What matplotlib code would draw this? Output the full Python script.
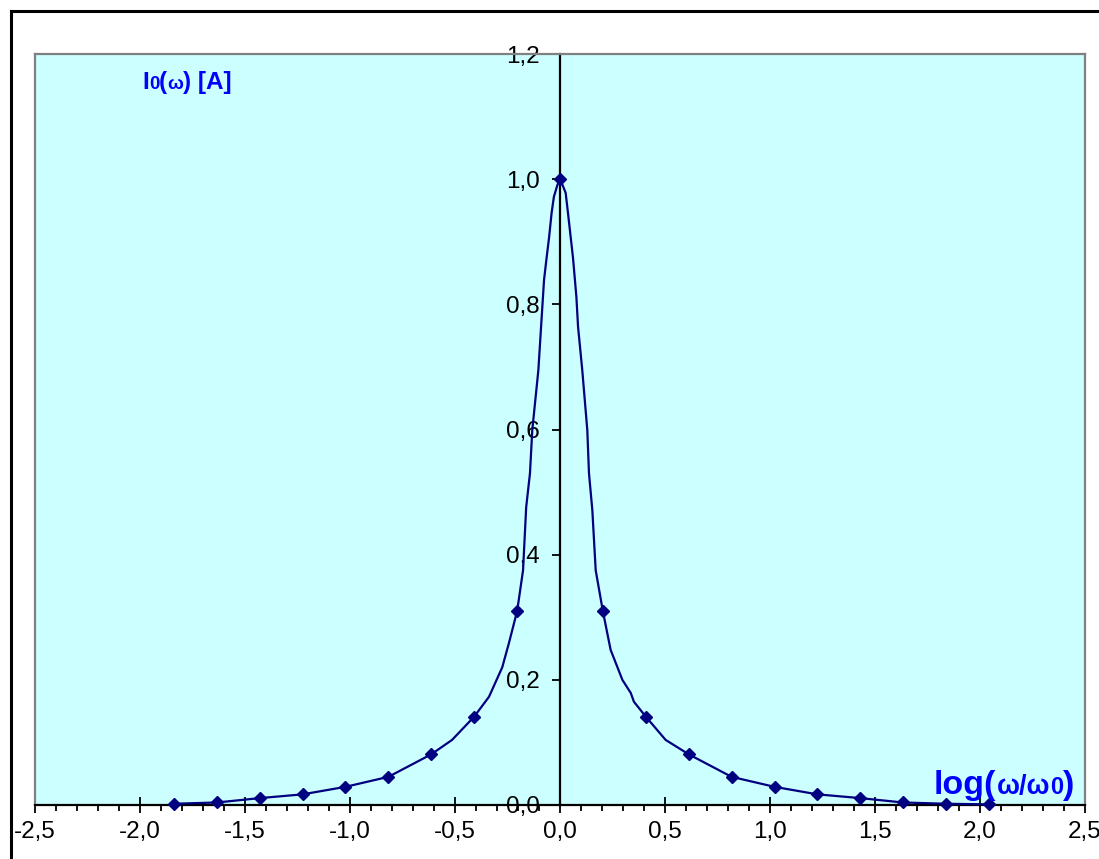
import matplotlib
matplotlib.use("Agg")
import matplotlib.pyplot as plt
from matplotlib.lines import Line2D
from matplotlib.ticker import MultipleLocator, FixedLocator

# ---- data ----
x_line = [-1.838, -1.634, -1.430, -1.226, -1.022, -0.817, -0.613, -0.514, -0.409,
          -0.338, -0.275, -0.243, -0.204, -0.176, -0.161, -0.143, -0.132, -0.103,
          -0.089, -0.076, -0.065, -0.052, -0.040, -0.029, -0.013, 0.000,
          0.013, 0.027, 0.038, 0.062, 0.078, 0.086, 0.106, 0.130, 0.138, 0.154,
          0.170, 0.204, 0.241, 0.297, 0.337, 0.352, 0.409, 0.503, 0.613, 0.817,
          1.022, 1.226, 1.430, 1.634, 1.838, 2.043]
y_line = [0.002, 0.004, 0.011, 0.017, 0.029, 0.045, 0.081, 0.104, 0.141,
          0.173, 0.220, 0.259, 0.310, 0.375, 0.476, 0.530, 0.599, 0.695,
          0.770, 0.839, 0.871, 0.907, 0.946, 0.972, 0.990, 1.000,
          0.990, 0.978, 0.946, 0.874, 0.812, 0.764, 0.695, 0.599, 0.530, 0.471,
          0.375, 0.310, 0.248, 0.200, 0.179, 0.165, 0.141, 0.104, 0.081, 0.045,
          0.029, 0.017, 0.011, 0.004, 0.002, 0.001]

x_mark = [-1.838, -1.634, -1.430, -1.226, -1.022, -0.817, -0.613, -0.409, -0.204, 0.0,
          0.204, 0.409, 0.613, 0.817, 1.022, 1.226, 1.430, 1.634, 1.838, 2.043]
y_mark = [0.002, 0.004, 0.011, 0.017, 0.029, 0.045, 0.081, 0.141, 0.310, 1.000,
          0.310, 0.141, 0.081, 0.045, 0.029, 0.017, 0.011, 0.004, 0.002, 0.001]

x_ticks = [-2.5, -2.0, -1.5, -1.0, -0.5, 0.0, 0.5, 1.0, 1.5, 2.0, 2.5]
x_ticklabels = ["-2,5", "-2,0", "-1,5", "-1,0", "-0,5", "0,0", "0,5", "1,0", "1,5", "2,0", "2,5"]
y_ticks = [0.0, 0.2, 0.4, 0.6, 0.8, 1.0, 1.2]
y_ticklabels = ["0,0", "0,2", "0,4", "0,6", "0,8", "1,0", "1,2"]

plt.rcParams['font.family'] = ['Liberation Sans', 'DejaVu Sans']

W, H = 1099, 859
fig = plt.figure(figsize=(W / 100, H / 100), dpi=100)
fig.patch.set_facecolor("white")

# outer chart border (partially cut off)
fig.add_artist(Line2D([11 / W, 11 / W], [0, 1 - 11 / H], color="black", lw=2.2,
                      transform=fig.transFigure))
fig.add_artist(Line2D([11 / W, 1], [1 - 11 / H, 1 - 11 / H], color="black", lw=2.2,
                      transform=fig.transFigure))

L, R, T, B = 35, 1085, 54, 805
ax = fig.add_axes([L / W, (H - B) / H, (R - L) / W, (B - T) / H])
ax.set_facecolor("#CCFFFF")
ax.set_xlim(-2.5, 2.5)
ax.set_ylim(0, 1.2)

for s in ("top", "right"):
    ax.spines[s].set_color("#808080")
    ax.spines[s].set_linewidth(1.6)
ax.spines["bottom"].set_color("black")
ax.spines["bottom"].set_linewidth(1.6)
ax.spines["left"].set_position(("data", 0))
ax.spines["left"].set_color("black")
ax.spines["left"].set_linewidth(1.6)
ax.add_artist(Line2D([0, 0], [0, 1], color="#808080", lw=1.6, transform=ax.transAxes,
                     clip_on=False))

ax.plot(x_line, y_line, color="#000080", lw=1.6, zorder=3, clip_on=False)
ax.plot(x_mark, y_mark, linestyle="none", marker="D", markersize=6.5,
        color="#000080", zorder=4, clip_on=False)

ax.xaxis.set_major_locator(FixedLocator(x_ticks))
ax.set_xticklabels(x_ticklabels)
ax.xaxis.set_minor_locator(MultipleLocator(0.1))
ax.tick_params(axis="x", which="major", direction="inout", length=11, width=1.3,
               pad=6, labelsize=17.5, color="black")
ax.tick_params(axis="x", which="minor", direction="out", length=4.5, width=1.3,
               color="black")
ax.yaxis.set_major_locator(FixedLocator(y_ticks))
ax.set_yticklabels(y_ticklabels)
ax.tick_params(axis="y", which="major", direction="out", length=5.5, width=1.3,
               pad=9, labelsize=17.5, color="black")

# texts made of pieces
fig.canvas.draw()
renderer = fig.canvas.get_renderer()

def pieces(x0, y0, parts):
    x = x0
    for txt, size in parts:
        t = fig.text(x / W, 1 - y0 / H, txt, fontsize=size, fontweight="bold",
                     color="#0000FF", ha="left", va="baseline")
        bb = t.get_window_extent(renderer=renderer)
        x += bb.width

pieces(142, 89, [("I", 17.5), ("0", 13.5), ("(", 17.5), ("ω", 13.5), (") [A]", 17.5)])
pieces(934, 794, [("log(", 24.5), ("ω/ω", 19.5), ("0", 17), (")", 24.5)])

fig.savefig("out.png", dpi=100)
